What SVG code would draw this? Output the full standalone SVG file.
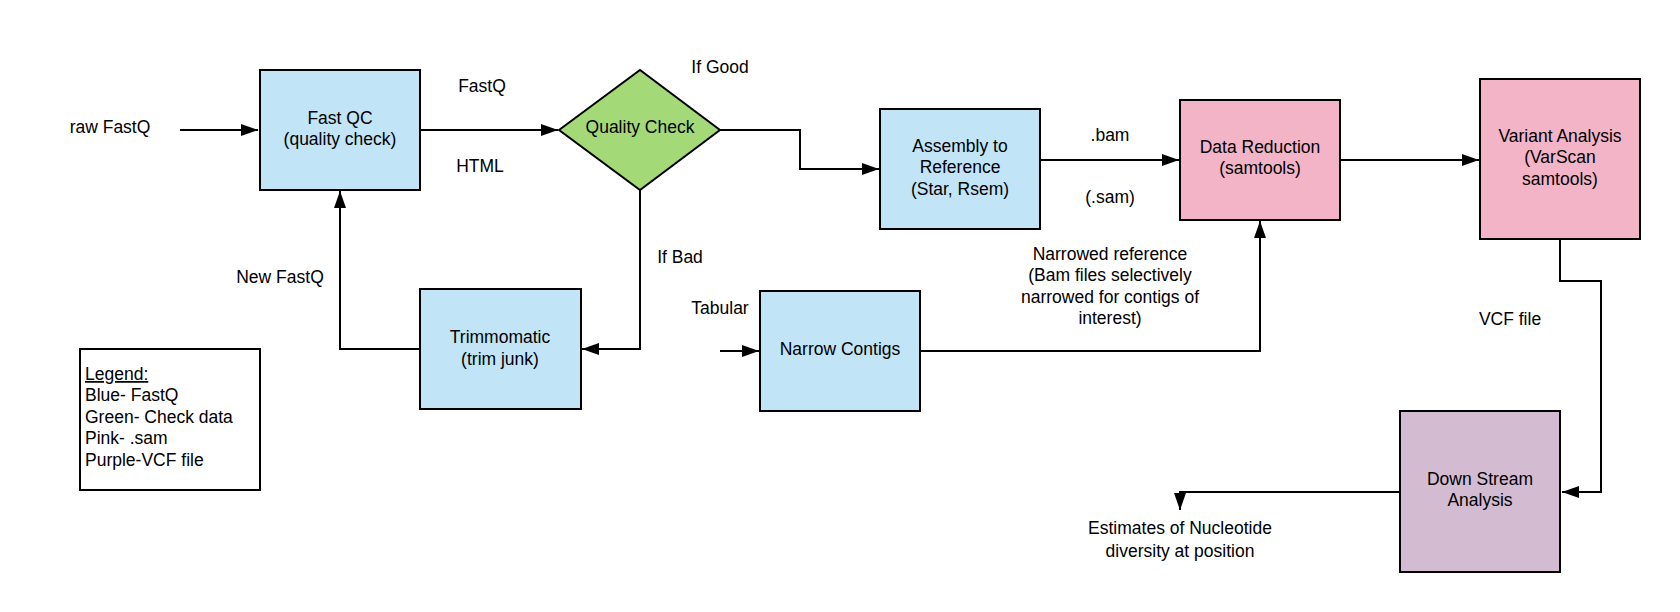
<svg xmlns="http://www.w3.org/2000/svg" width="1680" height="612" viewBox="0 0 1680 612">
<style>
text{font-family:"Liberation Sans",Arial,sans-serif;font-size:17.5px;fill:#000;text-anchor:middle}
.l{text-anchor:start}
.box{stroke:#000;stroke-width:2}
.blue{fill:#c1e4f7}.green{fill:#a3d977}.pink{fill:#f4b4c7}.purple{fill:#d3bbd2}
.c{fill:none;stroke:#000;stroke-width:2;marker-end:url(#ah)}
.n{fill:none;stroke:#000;stroke-width:2}
</style>
<defs>
<marker id="ah" markerUnits="userSpaceOnUse" markerWidth="18" markerHeight="14" refX="17" refY="6" orient="auto">
<path d="M0,0 L17,6 L0,12 z" fill="#000"/>
</marker>
</defs>
<rect width="1680" height="612" fill="#fff"/>
<g id="connectors">
<path class="c" d="M180,130 H258"/>
<path class="c" d="M420,130 H558"/>
<path class="c" d="M720,130 H800 V169 H879"/>
<path class="c" d="M1040,160 H1179"/>
<path class="c" d="M1340,160 H1479"/>
<path class="c" d="M640,190 V349 H582"/>
<path class="c" d="M420,349 H340 V191"/>
<path class="c" d="M720,351 H759"/>
<path class="c" d="M920,351 H1260 V221"/>
<path class="c" d="M1560,239 V281 H1601 V492 H1562"/>
<path class="c" d="M1400,492 H1180 V510"/>
</g>
<g id="raw-fastq"><text x="110" y="133">raw FastQ</text></g>
<g id="fastqc"><rect class="box blue" x="260" y="70" width="160" height="120"/><text x="340" y="124">Fast QC</text><text x="340" y="145">(quality check)</text></g>
<g id="label-fastq"><text x="482" y="92">FastQ</text></g>
<g id="label-html"><text x="480" y="172">HTML</text></g>
<g id="quality-check"><polygon class="box green" points="559,130 640,70 720,130 640,190"/><text x="640" y="133">Quality Check</text></g>
<g id="label-good"><text x="720" y="73">If Good</text></g>
<g id="label-bad"><text x="680" y="263">If Bad</text></g>
<g id="assembly"><rect class="box blue" x="880" y="109" width="160" height="120"/><text x="960" y="152">Assembly to</text><text x="960" y="173">Reference</text><text x="960" y="195">(Star, Rsem)</text></g>
<g id="label-bam"><text x="1110" y="141">.bam</text></g>
<g id="label-sam"><text x="1110" y="203">(.sam)</text></g>
<g id="data-reduction"><rect class="box pink" x="1180" y="100" width="160" height="120"/><text x="1260" y="153">Data Reduction</text><text x="1260" y="174">(samtools)</text></g>
<g id="variant"><rect class="box pink" x="1480" y="79" width="160" height="160"/><text x="1560" y="142">Variant Analysis</text><text x="1560" y="163">(VarScan</text><text x="1560" y="185">samtools)</text></g>
<g id="label-vcf"><text x="1510" y="325">VCF file</text></g>
<g id="downstream"><rect class="box purple" x="1400" y="411" width="160" height="161"/><text x="1480" y="485">Down Stream</text><text x="1480" y="506">Analysis</text></g>
<g id="estimates"><text x="1180" y="534">Estimates of Nucleotide</text><text x="1180" y="557">diversity at position</text></g>
<g id="trimmomatic"><rect class="box blue" x="420" y="289" width="161" height="120"/><text x="500" y="343">Trimmomatic</text><text x="500" y="365">(trim junk)</text></g>
<g id="label-newfastq"><text x="280" y="283">New FastQ</text></g>
<g id="label-tabular"><text x="720" y="314">Tabular</text></g>
<g id="narrow-contigs"><rect class="box blue" x="760" y="291" width="160" height="120"/><text x="840" y="355">Narrow Contigs</text></g>
<g id="label-narrowed"><text x="1110" y="260">Narrowed reference</text><text x="1110" y="281">(Bam files selectively</text><text x="1110" y="303">narrowed for contigs of</text><text x="1110" y="324">interest)</text></g>
<g id="legend"><rect x="80" y="349" width="180" height="141" fill="#fff" stroke="#000" stroke-width="2"/>
<text class="l" x="85" y="380" text-decoration="underline">Legend:</text>
<text class="l" x="85" y="401">Blue- FastQ</text>
<text class="l" x="85" y="423">Green- Check data</text>
<text class="l" x="85" y="444">Pink- .sam</text>
<text class="l" x="85" y="466">Purple-VCF file</text></g>
</svg>
